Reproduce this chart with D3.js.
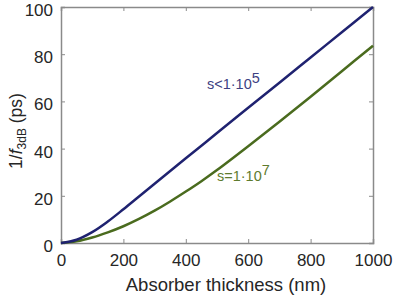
<!DOCTYPE html>
<html><head><meta charset="utf-8">
<script src="https://cdn.jsdelivr.net/npm/d3@7"></script>
<style>body{margin:0;background:#fff}svg{display:block}</style>
</head><body>
<svg id="c" width="395" height="303"></svg>
<script>
const thickness = [0,50,100,150,200,250,300,350,400,450,500,600,700,800,900,1000];
const sLow = [0,1.4,4.6,9.1,14.3,19.7,25.1,30.5,35.9,41.2,46.6,57.3,67.9,78.6,89.3,100];
const sHigh = [0,0.7,2.3,4.5,7.1,10.2,13.7,17.6,21.8,26.2,30.9,41.0,51.4,62.0,72.8,83.6];
const xTicks = [0,200,400,600,800,1000];
const yTicks = [0,20,40,60,80,100];

const svg = d3.select("#c");
const L=61,R=373,T=7,B=243;
const x = d3.scaleLinear().domain([0,1000]).range([L,R]);
const y = d3.scaleLinear().domain([0,100]).range([B,T]);
const font = "Liberation Sans, Arial, sans-serif";
const axisCol = "#8a8a8a";

const gx = svg.append("g").attr("transform",`translate(0,${B})`)
  .call(d3.axisBottom(x).tickValues(xTicks).tickFormat(d3.format("d")).tickSize(-4).tickPadding(9));
const gy = svg.append("g").attr("transform",`translate(${L},0)`)
  .call(d3.axisLeft(y).tickValues(yTicks).tickFormat(d3.format("d")).tickSize(-4).tickPadding(8));
const gt = svg.append("g").attr("transform",`translate(0,${T})`)
  .call(d3.axisTop(x).tickValues(xTicks).tickSize(-4).tickFormat(""));
const gr = svg.append("g").attr("transform",`translate(${R},0)`)
  .call(d3.axisRight(y).tickValues(yTicks).tickSize(-4).tickFormat(""));
[gx,gy,gt,gr].forEach(g=>{
  g.selectAll("path.domain").attr("stroke",axisCol).attr("stroke-width",1.5);
  g.selectAll(".tick line").attr("stroke",axisCol).attr("stroke-width",1);
  g.selectAll("text").attr("font-family",font).attr("font-size",17).attr("fill","#262626");
});
gx.selectAll("text").attr("dy","0.85em");
gy.selectAll("text").attr("dy","0.5em");

const line = arr => d3.line().curve(d3.curveCatmullRom.alpha(0.5))
  .x((d,i)=>x(thickness[i])).y(d=>y(d))(arr);
svg.append("path").attr("d",line(sHigh)).attr("fill","none")
  .attr("stroke","#4a6b1e").attr("stroke-width",2.5);
svg.append("path").attr("d",line(sLow)).attr("fill","none")
  .attr("stroke","#1f2270").attr("stroke-width",2.5);

const l1 = svg.append("text").attr("x",207).attr("y",89)
  .attr("font-family",font).attr("font-size",14.5).attr("fill","#3d4182");
l1.append("tspan").text("s<1·10");
l1.append("tspan").attr("dy",-6).text("5");
const l2 = svg.append("text").attr("x",217).attr("y",181)
  .attr("font-family",font).attr("font-size",14.5).attr("fill","#5e7b2e");
l2.append("tspan").text("s=1·10");
l2.append("tspan").attr("dy",-6).text("7");

svg.append("text").attr("x",226).attr("y",291).attr("text-anchor","middle")
  .attr("font-family",font).attr("font-size",18.5).attr("fill","#262626")
  .text("Absorber thickness (nm)");
const yt = svg.append("text").attr("transform",`translate(22,131) rotate(-90)`)
  .attr("text-anchor","middle").attr("font-family",font).attr("font-size",17.5).attr("fill","#262626");
yt.append("tspan").text("1/");
yt.append("tspan").attr("font-style","italic").text("f");
yt.append("tspan").attr("font-size",12).attr("dy",4).text("3dB");
yt.append("tspan").attr("dy",-4).text(" (ps)");
</script>
</body></html>
